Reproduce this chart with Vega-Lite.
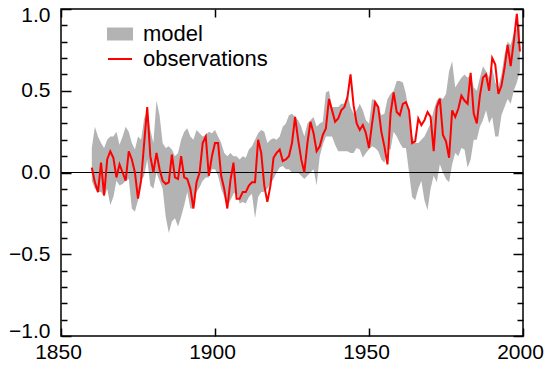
{
  "$schema": "https://vega.github.io/schema/vega-lite/v6.json",
  "width": 462,
  "height": 327,
  "autosize": "none",
  "padding": {"left": 61, "top": 9, "right": 30, "bottom": 39},
  "background": "white",
  "config": {"view": {"stroke": "black", "strokeWidth": 1.5}, "font": "Liberation Sans"},
  "data": {"values": [
    {"year":1860,"obs":0.03,"lo":-0.05,"hi":0.15},
    {"year":1861,"obs":-0.06,"lo":-0.10,"hi":0.28},
    {"year":1862,"obs":-0.12,"lo":-0.12,"hi":0.22},
    {"year":1863,"obs":0.06,"lo":-0.12,"hi":0.18},
    {"year":1864,"obs":-0.14,"lo":-0.15,"hi":0.15},
    {"year":1865,"obs":0.08,"lo":-0.10,"hi":0.20},
    {"year":1866,"obs":0.13,"lo":-0.20,"hi":0.22},
    {"year":1867,"obs":0.09,"lo":-0.15,"hi":0.22},
    {"year":1868,"obs":-0.03,"lo":-0.05,"hi":0.25},
    {"year":1869,"obs":0.05,"lo":-0.08,"hi":0.17},
    {"year":1870,"obs":0.0,"lo":-0.07,"hi":0.22},
    {"year":1871,"obs":-0.05,"lo":-0.05,"hi":0.28},
    {"year":1872,"obs":0.13,"lo":-0.04,"hi":0.25},
    {"year":1873,"obs":0.08,"lo":-0.22,"hi":0.18},
    {"year":1874,"obs":0.0,"lo":-0.24,"hi":0.14},
    {"year":1875,"obs":-0.16,"lo":-0.17,"hi":0.22},
    {"year":1876,"obs":-0.05,"lo":-0.05,"hi":0.20},
    {"year":1877,"obs":0.18,"lo":-0.02,"hi":0.33},
    {"year":1878,"obs":0.40,"lo":0.08,"hi":0.38},
    {"year":1879,"obs":0.10,"lo":-0.08,"hi":0.26},
    {"year":1880,"obs":0.0,"lo":-0.10,"hi":0.18},
    {"year":1881,"obs":0.12,"lo":0.0,"hi":0.44},
    {"year":1882,"obs":0.02,"lo":-0.05,"hi":0.35},
    {"year":1883,"obs":-0.05,"lo":-0.10,"hi":0.18},
    {"year":1884,"obs":-0.07,"lo":-0.27,"hi":0.15},
    {"year":1885,"obs":-0.06,"lo":-0.37,"hi":0.16},
    {"year":1886,"obs":0.11,"lo":-0.30,"hi":0.14},
    {"year":1887,"obs":-0.03,"lo":-0.28,"hi":0.10},
    {"year":1888,"obs":-0.04,"lo":-0.33,"hi":0.12},
    {"year":1889,"obs":0.10,"lo":-0.27,"hi":0.20},
    {"year":1890,"obs":-0.03,"lo":-0.20,"hi":0.25},
    {"year":1891,"obs":-0.04,"lo":-0.12,"hi":0.27},
    {"year":1892,"obs":-0.10,"lo":-0.22,"hi":0.22},
    {"year":1893,"obs":-0.22,"lo":-0.22,"hi":0.20},
    {"year":1894,"obs":-0.06,"lo":-0.12,"hi":0.26},
    {"year":1895,"obs":0.0,"lo":-0.09,"hi":0.24},
    {"year":1896,"obs":0.18,"lo":-0.05,"hi":0.22},
    {"year":1897,"obs":0.22,"lo":-0.03,"hi":0.23},
    {"year":1898,"obs":-0.02,"lo":-0.03,"hi":0.25},
    {"year":1899,"obs":0.10,"lo":0.02,"hi":0.24},
    {"year":1900,"obs":0.18,"lo":0.02,"hi":0.26},
    {"year":1901,"obs":0.18,"lo":-0.02,"hi":0.22},
    {"year":1902,"obs":-0.02,"lo":-0.10,"hi":0.18},
    {"year":1903,"obs":-0.10,"lo":-0.15,"hi":0.12},
    {"year":1904,"obs":-0.22,"lo":-0.20,"hi":0.10},
    {"year":1905,"obs":-0.05,"lo":-0.17,"hi":0.12},
    {"year":1906,"obs":0.06,"lo":-0.13,"hi":0.10},
    {"year":1907,"obs":-0.16,"lo":-0.12,"hi":0.10},
    {"year":1908,"obs":-0.16,"lo":-0.19,"hi":0.08},
    {"year":1909,"obs":-0.12,"lo":-0.18,"hi":0.10},
    {"year":1910,"obs":-0.12,"lo":-0.19,"hi":0.09},
    {"year":1911,"obs":-0.08,"lo":-0.15,"hi":0.14},
    {"year":1912,"obs":-0.06,"lo":-0.13,"hi":0.16},
    {"year":1913,"obs":-0.06,"lo":-0.28,"hi":0.20},
    {"year":1914,"obs":0.20,"lo":-0.15,"hi":0.24},
    {"year":1915,"obs":0.12,"lo":-0.12,"hi":0.26},
    {"year":1916,"obs":-0.08,"lo":-0.12,"hi":0.25},
    {"year":1917,"obs":-0.18,"lo":-0.10,"hi":0.18},
    {"year":1918,"obs":-0.08,"lo":-0.07,"hi":0.20},
    {"year":1919,"obs":0.09,"lo":-0.04,"hi":0.21},
    {"year":1920,"obs":0.12,"lo":0.0,"hi":0.20},
    {"year":1921,"obs":0.14,"lo":0.03,"hi":0.22},
    {"year":1922,"obs":0.07,"lo":0.04,"hi":0.28},
    {"year":1923,"obs":0.08,"lo":0.02,"hi":0.30},
    {"year":1924,"obs":0.10,"lo":0.02,"hi":0.35},
    {"year":1925,"obs":0.18,"lo":0.0,"hi":0.36},
    {"year":1926,"obs":0.34,"lo":0.0,"hi":0.34},
    {"year":1927,"obs":0.20,"lo":0.0,"hi":0.32},
    {"year":1928,"obs":0.08,"lo":-0.02,"hi":0.28},
    {"year":1929,"obs":0.00,"lo":-0.04,"hi":0.22},
    {"year":1930,"obs":0.18,"lo":-0.02,"hi":0.30},
    {"year":1931,"obs":0.31,"lo":0.0,"hi":0.32},
    {"year":1932,"obs":0.24,"lo":0.02,"hi":0.34},
    {"year":1933,"obs":0.13,"lo":-0.08,"hi":0.28},
    {"year":1934,"obs":0.16,"lo":0.10,"hi":0.30},
    {"year":1935,"obs":0.23,"lo":0.17,"hi":0.31},
    {"year":1936,"obs":0.27,"lo":0.22,"hi":0.49},
    {"year":1937,"obs":0.45,"lo":0.22,"hi":0.50},
    {"year":1938,"obs":0.38,"lo":0.22,"hi":0.40},
    {"year":1939,"obs":0.31,"lo":0.17,"hi":0.40},
    {"year":1940,"obs":0.33,"lo":0.13,"hi":0.40},
    {"year":1941,"obs":0.38,"lo":0.13,"hi":0.42},
    {"year":1942,"obs":0.40,"lo":0.13,"hi":0.42},
    {"year":1943,"obs":0.46,"lo":0.13,"hi":0.48},
    {"year":1944,"obs":0.60,"lo":0.12,"hi":0.40},
    {"year":1945,"obs":0.41,"lo":0.12,"hi":0.36},
    {"year":1946,"obs":0.30,"lo":0.15,"hi":0.38},
    {"year":1947,"obs":0.26,"lo":0.14,"hi":0.42},
    {"year":1948,"obs":0.29,"lo":0.09,"hi":0.38},
    {"year":1949,"obs":0.24,"lo":0.12,"hi":0.32},
    {"year":1950,"obs":0.15,"lo":0.14,"hi":0.30},
    {"year":1951,"obs":0.30,"lo":0.16,"hi":0.45},
    {"year":1952,"obs":0.43,"lo":0.15,"hi":0.44},
    {"year":1953,"obs":0.40,"lo":0.13,"hi":0.40},
    {"year":1954,"obs":0.25,"lo":0.08,"hi":0.35},
    {"year":1955,"obs":0.16,"lo":0.06,"hi":0.36},
    {"year":1956,"obs":0.05,"lo":0.14,"hi":0.45},
    {"year":1957,"obs":0.36,"lo":0.14,"hi":0.48},
    {"year":1958,"obs":0.49,"lo":0.25,"hi":0.50},
    {"year":1959,"obs":0.37,"lo":0.22,"hi":0.56},
    {"year":1960,"obs":0.35,"lo":0.18,"hi":0.56},
    {"year":1961,"obs":0.42,"lo":0.15,"hi":0.55},
    {"year":1962,"obs":0.43,"lo":0.15,"hi":0.48},
    {"year":1963,"obs":0.38,"lo":0.0,"hi":0.35},
    {"year":1964,"obs":0.18,"lo":-0.15,"hi":0.22},
    {"year":1965,"obs":0.19,"lo":-0.17,"hi":0.18},
    {"year":1966,"obs":0.33,"lo":-0.10,"hi":0.18},
    {"year":1967,"obs":0.29,"lo":-0.05,"hi":0.20},
    {"year":1968,"obs":0.32,"lo":-0.17,"hi":0.22},
    {"year":1969,"obs":0.37,"lo":-0.23,"hi":0.26},
    {"year":1970,"obs":0.34,"lo":-0.10,"hi":0.30},
    {"year":1971,"obs":0.13,"lo":-0.02,"hi":0.38},
    {"year":1972,"obs":0.40,"lo":-0.06,"hi":0.44},
    {"year":1973,"obs":0.45,"lo":0.05,"hi":0.46},
    {"year":1974,"obs":0.23,"lo":0.0,"hi":0.45},
    {"year":1975,"obs":0.19,"lo":-0.04,"hi":0.48},
    {"year":1976,"obs":0.09,"lo":-0.06,"hi":0.62},
    {"year":1977,"obs":0.38,"lo":0.05,"hi":0.68},
    {"year":1978,"obs":0.34,"lo":0.12,"hi":0.52},
    {"year":1979,"obs":0.39,"lo":0.10,"hi":0.55},
    {"year":1980,"obs":0.47,"lo":0.15,"hi":0.58},
    {"year":1981,"obs":0.44,"lo":0.14,"hi":0.60},
    {"year":1982,"obs":0.42,"lo":0.03,"hi":0.58},
    {"year":1983,"obs":0.61,"lo":0.08,"hi":0.60},
    {"year":1984,"obs":0.36,"lo":0.20,"hi":0.52},
    {"year":1985,"obs":0.30,"lo":0.20,"hi":0.50},
    {"year":1986,"obs":0.47,"lo":0.28,"hi":0.58},
    {"year":1987,"obs":0.58,"lo":0.32,"hi":0.65},
    {"year":1988,"obs":0.60,"lo":0.38,"hi":0.62},
    {"year":1989,"obs":0.50,"lo":0.30,"hi":0.58},
    {"year":1990,"obs":0.70,"lo":0.34,"hi":0.64},
    {"year":1991,"obs":0.66,"lo":0.22,"hi":0.55},
    {"year":1992,"obs":0.48,"lo":0.22,"hi":0.52},
    {"year":1993,"obs":0.53,"lo":0.35,"hi":0.60},
    {"year":1994,"obs":0.64,"lo":0.40,"hi":0.72},
    {"year":1995,"obs":0.78,"lo":0.45,"hi":0.80},
    {"year":1996,"obs":0.65,"lo":0.42,"hi":0.78},
    {"year":1997,"obs":0.80,"lo":0.50,"hi":0.85},
    {"year":1998,"obs":0.97,"lo":0.55,"hi":0.88},
    {"year":1999,"obs":0.74,"lo":0.62,"hi":0.90}
  ]},
  "layer": [
    {
      "mark": {"type": "area", "interpolate": "linear"},
      "encoding": {
        "x": {"field": "year", "type": "quantitative",
              "scale": {"domain": [1850, 2000], "nice": false, "zero": false},
              "axis": {"orient": "bottom", "values": [1850, 1900, 1950, 2000], "format": "d", "title": null,
                       "domain": false, "grid": false, "ticks": true, "tickSize": -8, "labelPadding": 13, "labelOffset": -3,
                       "labelFlush": false, "zindex": 2,
                       "labelFontSize": 21, "labelColor": "black", "labelFont": "Liberation Sans",
                       "tickColor": "black", "tickWidth": 1.5}},
        "y": {"field": "lo", "type": "quantitative",
              "scale": {"domain": [-1, 1], "nice": false, "zero": false},
              "axis": {"orient": "left", "values": [-1,-0.9,-0.8,-0.7,-0.6,-0.5,-0.4,-0.3,-0.2,-0.1,0,0.1,0.2,0.3,0.4,0.5,0.6,0.7,0.8,0.9,1],
                       "labelExpr": "abs(datum.value*2 - round(datum.value*2)) < 0.001 ? format(datum.value, '.1f') : ''",
                       "title": null, "domain": false, "grid": false, "ticks": true,
                       "tickSize": {"condition": {"test": "abs(datum.value*2 - round(datum.value*2)) < 0.001", "value": -10}, "value": -6},
                       "labelPadding": 21,
                       "labelFlush": true, "labelFlushOffset": 5, "zindex": 2,
                       "labelFontSize": 21, "labelColor": "black", "labelFont": "Liberation Sans",
                       "tickColor": "black", "tickWidth": 1.5}},
        "y2": {"field": "hi"},
        "color": {"datum": "model", "type": "nominal",
                  "scale": {"domain": ["model", "observations"], "range": ["#b3b3b3", "#ff0000"]},
                  "legend": {"orient": "none", "legendX": 46, "legendY": 12, "title": null, "padding": 0,
                             "symbolSize": 576, "labelFontSize": 22, "labelFont": "Liberation Sans", "labelColor": "black",
                             "labelOffset": 10, "rowPadding": 1,
                             "encode": {"symbols": {"update": {
                               "shape": {"signal": "datum.value === 'model' ? 'M-1,-0.46H1V0.46H-1Z' : 'stroke'"},
                               "fill": {"signal": "datum.value === 'model' ? '#b3b3b3' : 'transparent'"},
                               "stroke": {"signal": "datum.value === 'model' ? 'transparent' : '#ff0000'"},
                               "strokeWidth": {"value": 2},
                               "opacity": {"value": 1}}}}}}
      }
    },
    {
      "mark": {"type": "rule", "color": "black", "strokeWidth": 1.2},
      "encoding": {"y": {"datum": 0, "type": "quantitative", "axis": null}}
    },
    {
      "mark": {"type": "line", "strokeWidth": 2, "interpolate": "linear"},
      "encoding": {
        "x": {"field": "year", "type": "quantitative",
              "axis": {"orient": "top", "values": [1850, 1900, 1950, 2000], "labels": false, "title": null,
                       "domain": false, "grid": false, "ticks": true, "tickSize": -8, "tickColor": "black", "tickWidth": 1.5, "zindex": 2}},
        "y": {"field": "obs", "type": "quantitative",
              "axis": {"orient": "right", "values": [-1,-0.9,-0.8,-0.7,-0.6,-0.5,-0.4,-0.3,-0.2,-0.1,0,0.1,0.2,0.3,0.4,0.5,0.6,0.7,0.8,0.9,1],
                       "labels": false, "title": null, "domain": false, "grid": false, "ticks": true,
                       "tickSize": {"condition": {"test": "abs(datum.value*2 - round(datum.value*2)) < 0.001", "value": -10}, "value": -6},
                       "tickColor": "black", "tickWidth": 1.5, "zindex": 2}},
        "color": {"datum": "observations", "type": "nominal"}
      }
    }
  ],
  "resolve": {"axis": {"x": "independent", "y": "independent"}}
}
